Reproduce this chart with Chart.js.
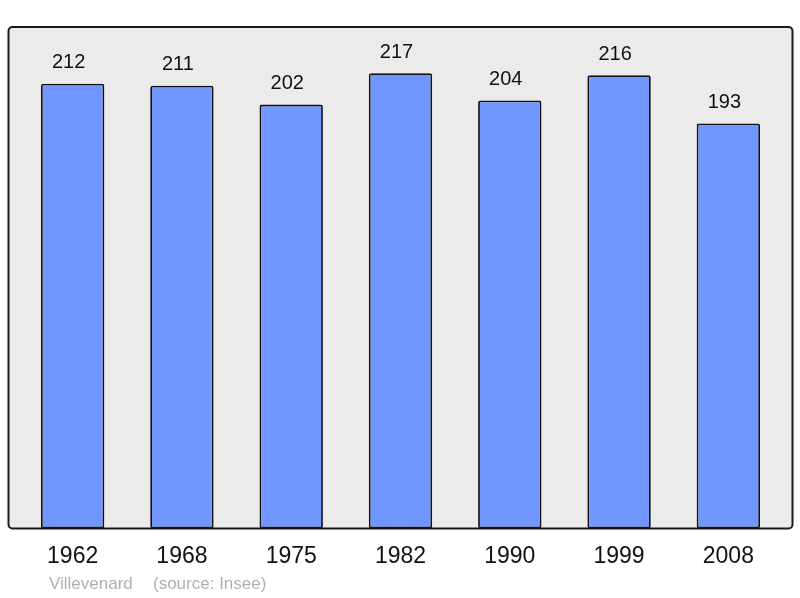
<!DOCTYPE html>
<html>
<head>
<meta charset="utf-8">
<script src="https://cdn.jsdelivr.net/npm/chart.js@4/dist/chart.umd.min.js"></script>
<style>
  html, body { margin: 0; padding: 0; background: #fff; }
  #wrap { width: 800px; height: 598px; }
</style>
</head>
<body>
<div id="wrap"><canvas id="myChart"></canvas></div>
<script>
const years = ["1962", "1968", "1975", "1982", "1990", "1999", "2008"];
const population = [212, 211, 202, 217, 204, 216, 193];
const commune = "Villevenard";
const source = "(source: Insee)";

// grey rounded frame behind the bars
const frame = {
  id: "frame",
  beforeDatasetsDraw(chart) {
    const { ctx, chartArea } = chart;
    const x0 = chartArea.left - 9.5, x1 = chartArea.right + 9.5;
    const y0 = chartArea.top, y1 = chartArea.bottom;
    ctx.save();
    ctx.beginPath();
    ctx.roundRect(x0, y0, x1 - x0, y1 - y0, 4);
    ctx.fillStyle = "#ebebeb";
    ctx.fill();
    ctx.restore();
  },
  afterDatasetsDraw(chart) {
    const { ctx, chartArea } = chart;
    const x0 = chartArea.left - 9.5, x1 = chartArea.right + 9.5;
    const y0 = chartArea.top, y1 = chartArea.bottom;
    ctx.save();
    ctx.beginPath();
    ctx.roundRect(x0, y0, x1 - x0, y1 - y0, 4);
    ctx.lineWidth = 2;
    ctx.strokeStyle = "#1a1a1a";
    ctx.stroke();
    // value labels (sit a little left of the bar centre, like the original)
    ctx.font = "20px 'Liberation Sans', Arial, sans-serif";
    ctx.fillStyle = "#111";
    ctx.textAlign = "center";
    ctx.textBaseline = "middle";
    chart.getDatasetMeta(0).data.forEach((bar, i) => {
      ctx.fillText(String(population[i]), bar.x - 4, bar.y - 21);
    });
    // footer
    ctx.font = "17px 'Liberation Sans', Arial, sans-serif";
    ctx.fillStyle = "#b0b0b0";
    ctx.textAlign = "left";
    ctx.fillText(commune, 49, 584);
    ctx.fillText(source, 153, 584);
    ctx.restore();
  }
};

new Chart(document.getElementById("myChart"), {
  type: "bar",
  data: {
    labels: years,
    datasets: [{
      data: population,
      backgroundColor: "rgb(112, 150, 255)",
      borderColor: "#111",
      borderWidth: 1.8,
      borderRadius: 2,
      borderSkipped: false,
      barPercentage: 0.58,
      categoryPercentage: 1
    }]
  },
  options: {
    responsive: true,
    maintainAspectRatio: false,
    animation: false,
    layout: { padding: { left: 18, right: 17, top: 27, bottom: 14 } },
    plugins: {
      legend: { display: false },
      tooltip: { enabled: false }
    },
    scales: {
      x: {
        grid: { display: false, drawTicks: false },
        border: { display: false },
        ticks: {
          color: "#111",
          padding: 14,
          font: { size: 23, family: "'Liberation Sans', Arial, sans-serif" }
        }
      },
      y: {
        display: false,
        min: 0,
        max: 239
      }
    }
  },
  plugins: [frame]
});
</script>
</body>
</html>
